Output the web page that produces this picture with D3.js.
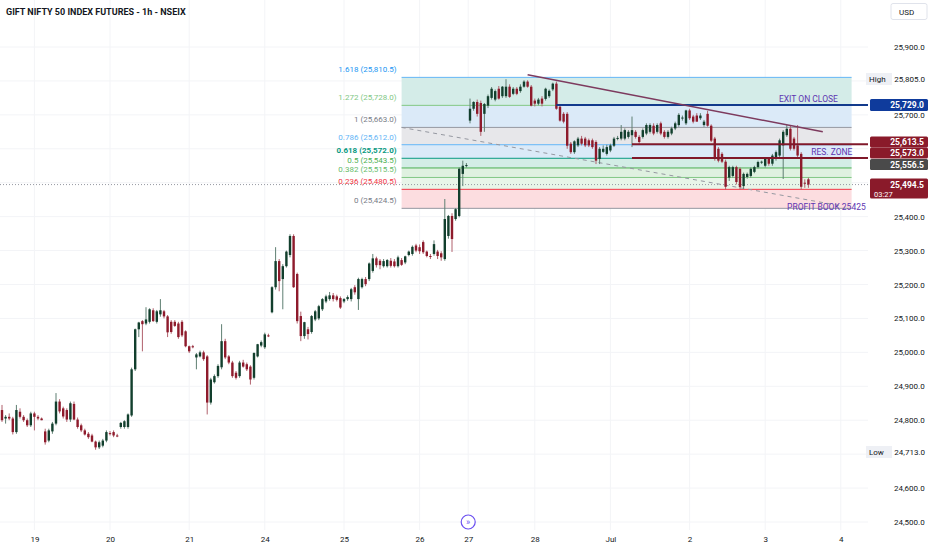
<!DOCTYPE html>
<html>
<head>
<meta charset="utf-8">
<script src="https://cdnjs.cloudflare.com/ajax/libs/d3/7.8.5/d3.min.js"></script>
<style>
  body { margin: 0; background: #fff; }
  svg text { font-family: Roboto, "Liberation Sans", sans-serif; }
</style>
</head>
<body>
<svg id="chart" width="932" height="550"></svg>
<script>
// hourly bars, [open, high, low, close]
var bars = [
  [24830,24845,24795,24800],[24805,24815,24790,24810],[24810,24820,24800,24805],[24805,24810,24758,24765],
  [24765,24845,24760,24830],[24825,24835,24805,24810],[24810,24815,24795,24800],[24800,24805,24780,24785],
  [24785,24825,24780,24820],[24820,24825,24770,24810],[24810,24815,24800,24805],[24805,24808,24800,24800],
  [24767,24775,24728,24735],[24740,24775,24735,24770],[24767,24795,24760,24790],[24790,24880,24785,24855],
  [24855,24862,24820,24826],[24835,24840,24805,24811],[24830,24835,24795,24802],[24802,24855,24795,24850],
  [24848,24855,24800,24802],[24802,24808,24775,24780],[24785,24790,24765,24770],[24770,24775,24755,24758],
  [24760,24765,24745,24750],[24755,24760,24735,24737],[24737,24740,24713,24720],[24720,24740,24715,24735],
  [24725,24745,24720,24740],[24740,24770,24735,24765],[24762,24768,24755,24760],[24765,24770,24750,24755],
  [24755,24760,24750,24752],[24780,24795,24775,24792],[24780,24800,24775,24797],[24780,24820,24775,24817],
  [24814,24955,24810,24950],[24950,25070,24945,25068],[25068,25090,25045,25088],[25092,25095,25003,25083],
  [25085,25133,25080,25097],[25090,25130,25085,25127],[25124,25130,25090,25092],[25090,25125,25085,25121],
  [25112,25157,25105,25124],[25121,25125,25100,25106],[25106,25110,25045,25059],[25090,25095,25055,25060],
  [25090,25095,25075,25078],[25085,25090,25040,25045],[25090,25095,25045,25050],[25062,25065,25015,25018],
  [25018,25020,24998,25003],[25018,25022,25012,25015],[24985,24998,24950,24994],[24988,25005,24985,25000],
  [25000,25005,24975,24980],[24988,24992,24817,24852],[24852,24925,24846,24920],[24912,24935,24908,24930],
  [24930,24965,24925,24960],[24956,25083,24950,25033],[25033,25040,24980,24985],[24988,24992,24965,24970],
  [24970,24975,24925,24930],[24940,24945,24920,24925],[24930,24975,24925,24970],[24970,24978,24955,24958],
  [24965,24970,24945,24950],[24958,24962,24905,24920],[24925,25000,24920,24998],[24988,25025,24985,25024],
  [25020,25035,25015,25030],[25015,25058,25010,25053],[25050,25055,25045,25048],[25118,25195,25115,25192],
  [25192,25310,25185,25269],[25269,25275,25180,25210],[25216,25260,25127,25254],[25254,25300,25250,25297],
  [25287,25348,25280,25343],[25343,25348,25190,25192],[25231,25235,25085,25092],[25107,25120,25033,25048],
  [25048,25090,25040,25089],[25068,25075,25038,25054],[25060,25110,25055,25107],[25097,25125,25092,25121],
  [25100,25140,25095,25136],[25127,25160,25122,25157],[25150,25170,25145,25165],[25157,25178,25152,25168],
  [25168,25175,25150,25157],[25165,25170,25150,25155],[25160,25165,25128,25132],[25150,25160,25145,25157],
  [25157,25168,25152,25163],[25157,25190,25150,25186],[25192,25198,25170,25177],[25157,25220,25125,25216],
  [25192,25220,25188,25216],[25216,25222,25195,25201],[25216,25265,25210,25262],[25240,25290,25235,25277],
  [25277,25282,25250,25257],[25270,25275,25245,25257],[25254,25275,25250,25269],[25254,25275,25250,25272],
  [25270,25278,25250,25255],[25268,25275,25250,25254],[25254,25285,25250,25280],[25272,25278,25255,25258],
  [25265,25285,25260,25283],[25287,25300,25283,25297],[25290,25315,25285,25311],[25315,25320,25295,25300],
  [25310,25318,25290,25298],[25325,25330,25290,25295],[25297,25300,25280,25284],[25284,25290,25275,25282],
  [25290,25330,25285,25319],[25297,25302,25275,25284],[25292,25298,25270,25280],[25275,25452,25270,25393],
  [25343,25405,25335,25402],[25402,25410,25296,25334],[25393,25425,25388,25422],[25402,25545,25398,25541],
  [25526,25565,25490,25550],[25550,25558,25545,25552],[25683,25748,25675,25718],[25718,25740,25712,25738],
  [25738,25745,25695,25703],[25735,25742,25638,25650],[25703,25735,25650,25732],[25727,25760,25720,25755],
  [25750,25782,25745,25777],[25745,25775,25740,25770],[25777,25785,25745,25748],[25755,25785,25750,25783],
  [25755,25805,25750,25783],[25783,25790,25750,25753],[25762,25782,25758,25777],[25777,25782,25758,25762],
  [25770,25790,25765,25783],[25783,25802,25780,25798],[25798,25802,25780,25783],[25783,25788,25725,25727],
  [25742,25748,25725,25733],[25733,25750,25728,25745],[25748,25755,25725,25733],[25747,25780,25742,25777],
  [25755,25775,25750,25771],[25775,25795,25770,25792],[25792,25798,25715,25718],[25724,25728,25680,25683],
  [25703,25708,25675,25680],[25703,25708,25600,25609],[25615,25620,25585,25590],[25590,25625,25585,25622],
  [25610,25635,25605,25630],[25630,25638,25610,25615],[25630,25635,25605,25610],[25625,25630,25605,25610],
  [25625,25630,25600,25605],[25620,25625,25555,25565],[25570,25605,25555,25600],[25591,25610,25588,25600],
  [25585,25612,25580,25605],[25595,25615,25590,25610],[25609,25635,25605,25630],[25630,25638,25625,25632],
  [25630,25670,25625,25650],[25630,25660,25625,25655],[25635,25655,25630,25650],[25640,25695,25605,25655],
  [25650,25655,25630,25635],[25635,25640,25615,25620],[25635,25660,25630,25655],[25645,25675,25640,25670],
  [25650,25675,25645,25670],[25668,25675,25640,25645],[25650,25675,25645,25670],[25675,25680,25640,25645],
  [25650,25655,25630,25635],[25635,25655,25630,25650],[25645,25665,25640,25660],[25660,25680,25655,25675],
  [25670,25705,25665,25700],[25690,25698,25683,25692],[25675,25715,25670,25713],[25713,25718,25685,25690],
  [25695,25700,25675,25680],[25698,25705,25680,25680],[25690,25705,25685,25698],[25670,25685,25665,25680],
  [25703,25712,25665,25668],[25668,25672,25620,25624],[25630,25635,25565,25570],[25600,25605,25560,25565],
  [25585,25590,25558,25562],[25562,25568,25480,25488],[25515,25550,25505,25546],[25520,25550,25515,25546],
  [25546,25550,25495,25502],[25541,25545,25480,25487],[25490,25530,25482,25526],[25517,25530,25512,25526],
  [25520,25545,25515,25541],[25532,25550,25528,25546],[25546,25565,25542,25561],[25560,25565,25555,25562],
  [25550,25575,25545,25570],[25570,25575,25550,25556],[25556,25585,25550,25580],[25570,25595,25565,25590],
  [25580,25630,25575,25625],[25610,25655,25511,25650],[25640,25670,25635,25659],[25659,25668,25595,25600],
  [25630,25635,25595,25600],[25610,25670,25570,25580],[25585,25590,25480,25488],[25500,25510,25485,25498],
  [25510,25515,25485,25494.5]
];

// time axis: bar index where each day label sits
var dayTicks  = [9, 30, 52, 73, 95, 116, 129.5, 148, 169, 191, 212, 233];
var dayLabels = ["19", "20", "21", "24", "25", "26", "27", "28", "Jul", "2", "3", "4"];

var gridTicks  = [24500, 24600, 24700, 24800, 24900, 25000, 25100, 25200, 25300, 25400, 25500, 25600, 25700, 25800, 25900];
// the rest are hidden behind the price tags
var priceTicks = [24500, 24600, 24800, 24900, 25000, 25100, 25200, 25300, 25400, 25700, 25900];

// fib retracement drawn between bar 111 and bar 236
var fibStartIdx = 111, fibEndIdx = 236;
var fibRatios = ["1.618", "1.272", "1", "0.786", "0.618", "0.5", "0.382", "0.236", "0"];
var fibPrices = [25810.5, 25728.0, 25663.0, 25612.0, 25572.0, 25543.5, 25515.5, 25480.5, 25424.5];
var fibLine   = ["#64b5f6", "#81c784", "#9598a1", "#64b5f6", "#089981", "#4caf50", "#81c784", "#f23645", "#9598a1"];
var fibText   = ["#2196f3", "#81c784", "#787b86", "#64b5f6", "#089981", "#4caf50", "#66bb6a", "#f23645", "#787b86"];
var fibFill   = ["#d4ece8", "#dbeaf8", "#e7e7ea", "#dbeaf8", "#d3ede6", "#dff1e0", "#e8f5e9", "#fcdde0"];

// drawings: [barIndex, price]
var falseBreakLine = [[111, 25663], [233, 25432]];
var downTrend      = [[146, 25818], [228, 25650]];
var exitLevel  = {price: 25729.0, from: 154};
var resLevels  = [{price: 25613.5, from: 175}, {price: 25573.0, from: 175}];
var notes = [
  {text: "EXIT ON CLOSE", idx: 224, price: 25748},
  {text: "RES. ZONE", idx: 230.5, price: 25591},
  {text: "PROFIT BOOK 25425", idx: 229, price: 25429}
];
var lastPrice = 25494.5, lastCountdown = "03:27";
var highValue = 25805.0, lowValue = 24713.0;
var gridPrice = 25556.5;

var svg = d3.select("#chart");
var plotRight = 868;

var x = d3.scaleLinear().domain([0, bars.length - 1]).range([2, 808.4]);
var y = d3.scaleLinear().domain([24500, 25900]).range([522, 47]);
var fmt = d3.format(",.1f");

// grid
var grid = svg.append("g");
grid.selectAll("line.h").data(gridTicks).enter().append("line")
  .attr("x1", 0).attr("x2", plotRight).attr("y1", d => y(d)).attr("y2", d => y(d))
  .attr("stroke", "#f3f4f7").attr("stroke-width", 1);
grid.selectAll("line.v").data(dayTicks).enter().append("line")
  .attr("x1", d => x(d)).attr("x2", d => x(d)).attr("y1", 0).attr("y2", 530)
  .attr("stroke", "#f3f4f7").attr("stroke-width", 1);

// fib bands and levels
var fx0 = x(fibStartIdx), fx1 = x(fibEndIdx);
var fib = svg.append("g");
fib.selectAll("rect").data(fibFill).enter().append("rect")
  .attr("x", fx0).attr("width", fx1 - fx0)
  .attr("y", (d, i) => y(fibPrices[i]))
  .attr("height", (d, i) => y(fibPrices[i + 1]) - y(fibPrices[i]))
  .attr("fill", d => d);
fib.selectAll("line").data(fibPrices).enter().append("line")
  .attr("x1", fx0).attr("x2", fx1).attr("y1", d => y(d)).attr("y2", d => y(d))
  .attr("stroke", (d, i) => fibLine[i]).attr("stroke-width", 1);
fib.selectAll("text").data(fibPrices).enter().append("text")
  .attr("x", fx0 - 5).attr("y", d => y(d) - 5)
  .attr("text-anchor", "end").attr("font-size", 8)
  .attr("font-weight", (d, i) => fibRatios[i] === "0.618" ? "bold" : "normal")
  .attr("fill", (d, i) => fibText[i])
  .text((d, i) => fibRatios[i] + " (" + fmt(d) + ")");

// dashed line
svg.append("line")
  .attr("x1", x(falseBreakLine[0][0])).attr("y1", y(falseBreakLine[0][1]))
  .attr("x2", x(falseBreakLine[1][0])).attr("y2", y(falseBreakLine[1][1]))
  .attr("stroke", "#9598a1").attr("stroke-width", 1).attr("stroke-dasharray", "4,4");

// last price dotted line
svg.append("line")
  .attr("x1", 0).attr("x2", plotRight).attr("y1", y(lastPrice)).attr("y2", y(lastPrice))
  .attr("stroke", "#9598a1").attr("stroke-width", 1).attr("stroke-dasharray", "1,2");

// candles
var upCol = "#123f2d", dnCol = "#8e1b2c";
var candles = svg.append("g").selectAll("g").data(bars).enter().append("g");
candles.append("line")
  .attr("x1", (d, i) => x(i)).attr("x2", (d, i) => x(i))
  .attr("y1", d => y(Math.max(d[1], d[0], d[3]))).attr("y2", d => y(Math.min(d[2], d[0], d[3])))
  .attr("stroke", d => d[3] >= d[0] ? "#5f7f72" : "#b0606c").attr("stroke-width", 1);
candles.append("rect")
  .attr("x", (d, i) => x(i) - 1.2).attr("width", 2.4)
  .attr("y", d => y(Math.max(d[0], d[3])))
  .attr("height", d => Math.max(1, Math.abs(y(d[0]) - y(d[3]))))
  .attr("fill", d => d[3] >= d[0] ? upCol : dnCol);

// horizontal levels
svg.append("line")
  .attr("x1", x(exitLevel.from)).attr("x2", plotRight).attr("y1", y(exitLevel.price)).attr("y2", y(exitLevel.price))
  .attr("stroke", "#123a8c").attr("stroke-width", 2);
svg.selectAll("line.res").data(resLevels).enter().append("line")
  .attr("x1", d => x(d.from)).attr("x2", plotRight).attr("y1", d => y(d.price)).attr("y2", d => y(d.price))
  .attr("stroke", "#80182a").attr("stroke-width", 2);

// trend line
svg.append("line")
  .attr("x1", x(downTrend[0][0])).attr("y1", y(downTrend[0][1]))
  .attr("x2", x(downTrend[1][0])).attr("y2", y(downTrend[1][1]))
  .attr("stroke", "#7d3a5e").attr("stroke-width", 1.5);

// notes
svg.selectAll("text.note").data(notes).enter().append("text")
  .attr("x", d => x(d.idx)).attr("y", d => y(d.price) + 3)
  .attr("text-anchor", "middle").attr("font-size", 8.5).attr("fill", "#5e35b1")
  .text(d => d.text);

// title
svg.append("text").attr("x", 6).attr("y", 15).attr("font-size", 9).attr("font-weight", "bold")
  .attr("fill", "#131722").text("GIFT NIFTY 50 INDEX FUTURES - 1h - NSEIX");

// right price scale
var axisR = d3.axisRight(y).tickValues(priceTicks).tickFormat(fmt).tickSize(0).tickPadding(0);
var ga = svg.append("g").attr("transform", "translate(894,0)").call(axisR);
ga.select(".domain").remove();
ga.selectAll("text").attr("font-size", 8).attr("fill", "#131722")
  .attr("font-family", "Roboto, sans-serif");

// USD box
svg.append("rect").attr("x", 891).attr("y", 3.5).attr("width", 36).attr("height", 16)
  .attr("fill", "#fff").attr("stroke", "#e0e3eb").attr("rx", 2);
svg.append("text").attr("x", 899).attr("y", 14.5).attr("font-size", 8).attr("fill", "#131722").text("USD");

// price tags
function tag(yc, label, bg, fg, h) {
  svg.append("rect").attr("x", 870).attr("y", yc - h / 2).attr("width", 58).attr("height", h)
    .attr("fill", bg).attr("rx", 1.5);
  svg.append("text").attr("x", 924).attr("y", yc + 3).attr("text-anchor", "end")
    .attr("font-size", 8.5).attr("font-weight", "bold").attr("fill", fg).text(label);
}
tag(y(exitLevel.price), fmt(exitLevel.price), "#0f3b9c", "#fff", 12);
tag(142, fmt(resLevels[0].price), "#8a1a2a", "#fff", 11);
tag(153, fmt(resLevels[1].price), "#8a1a2a", "#fff", 11);
tag(164.5, fmt(gridPrice), "#4a4a4a", "#fff", 11);
// last price with countdown
svg.append("rect").attr("x", 870).attr("y", y(lastPrice) - 6).attr("width", 58).attr("height", 20)
  .attr("fill", "#8a1a2a").attr("rx", 1.5);
svg.append("text").attr("x", 924).attr("y", y(lastPrice) + 3).attr("text-anchor", "end")
  .attr("font-size", 8.5).attr("font-weight", "bold").attr("fill", "#fff").text(fmt(lastPrice));
svg.append("text").attr("x", 874).attr("y", y(lastPrice) + 12).attr("font-size", 7.5)
  .attr("fill", "#fff").text(lastCountdown);

// High / Low markers
function extreme(yc, name, v) {
  svg.append("rect").attr("x", 866).attr("y", yc - 6).attr("width", 26).attr("height", 12).attr("fill", "#eef0f5");
  svg.append("text").attr("x", 869).attr("y", yc + 3).attr("font-size", 8).attr("fill", "#131722").text(name);
  svg.append("text").attr("x", 925).attr("y", yc + 3).attr("text-anchor", "end")
    .attr("font-size", 8).attr("fill", "#131722").text(fmt(v));
}
extreme(79, "High", highValue);
extreme(452, "Low", lowValue);

// time axis
var axisB = d3.axisBottom(x).tickValues(dayTicks).tickFormat((d, i) => dayLabels[i]).tickSize(0).tickPadding(0);
var gb = svg.append("g").attr("transform", "translate(0,536)").call(axisB);
gb.select(".domain").remove();
gb.selectAll("text").attr("font-size", 8).attr("fill", "#131722");

// go-to-realtime marker
var mk = svg.append("g").attr("transform", "translate(" + x(129.5) + ",522)");
mk.append("circle").attr("r", 7).attr("fill", "#fff").attr("stroke", "#6a4ff0").attr("stroke-width", 1.2);
mk.append("text").attr("y", 3).attr("text-anchor", "middle").attr("font-size", 9)
  .attr("fill", "#6a4ff0").text("»");
</script>
</body>
</html>
